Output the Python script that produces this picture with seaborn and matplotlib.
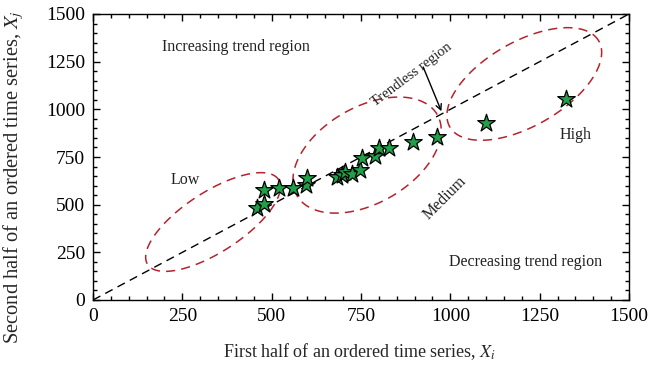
import numpy as np
import pandas as pd
import matplotlib
matplotlib.use("Agg")
import matplotlib.pyplot as plt
from matplotlib.ticker import MultipleLocator, AutoMinorLocator
import seaborn as sns

# First-half vs second-half means of the ordered series
first_half = [460, 479, 479, 521, 559, 596, 598,
              682, 697, 705, 724, 747, 752, 789, 801, 827, 895, 962,
              1100, 1324]
second_half = [481, 502, 577, 586, 589, 603, 641,
               647, 656, 670, 659, 682, 746, 757, 796, 799, 827, 857,
               927, 1053]

# Group ellipses: centre (data), semi-axes (pixels), tilt (degrees)
group_names = ["Low", "Medium", "High"]
group_centres = [(336, 409), (767, 760), (1207, 1133)]
group_axes = [(78, 30), (81, 48), (86, 42)]
group_tilts = [33, 30, 30]

df = pd.DataFrame({"xi": first_half, "xj": second_half})

sns.set_style("ticks")
plt.rcParams["font.family"] = ["Liberation Serif", "DejaVu Serif"]
plt.rcParams["mathtext.fontset"] = "stix"

W, H = 662, 366
fig = plt.figure(figsize=(W / 100, H / 100), dpi=100)
ax = fig.add_axes([93 / W, 1 - 300 / H, 536 / W, 286 / H])

# trend-free diagonal
ax.plot([0, 1500], [0, 1500], ls=(0, (6, 4)), color="black", lw=1.0, zorder=1)

# group outlines
px_per_x = ax.get_position().width * W / 1500
px_per_y = ax.get_position().height * H / 1500
t = np.linspace(0, 2 * np.pi, 400)
for (cx, cy), (a, b), th in zip(group_centres, group_axes, group_tilts):
    r = np.deg2rad(th)
    dx = a * np.cos(t) * np.cos(r) - b * np.sin(t) * np.sin(r)
    dy = a * np.cos(t) * np.sin(r) + b * np.sin(t) * np.cos(r)
    ax.plot(cx + dx / px_per_x, cy + dy / px_per_y, ls=(0, (6, 4)),
            color="#b5232d", lw=1.1, zorder=2)

sns.scatterplot(data=df, x="xi", y="xj", marker="*", s=175,
                color="#22a049", edgecolor="black", linewidth=0.9,
                ax=ax, zorder=3, legend=False)

ax.set_xlim(0, 1500)
ax.set_ylim(0, 1500)
ax.xaxis.set_major_locator(MultipleLocator(250))
ax.yaxis.set_major_locator(MultipleLocator(250))
ax.xaxis.set_minor_locator(AutoMinorLocator(5))
ax.yaxis.set_minor_locator(AutoMinorLocator(5))
ax.tick_params(which="both", direction="in", top=True, right=True,
               labelsize=14, width=1.0, colors="black", pad=5.5)
ax.tick_params(which="major", length=5)
ax.tick_params(which="minor", length=3)
for sp in ax.spines.values():
    sp.set_linewidth(1.0)
    sp.set_color("black")

ax.set_xlabel("First half of an ordered time series, $X_i$", fontsize=13)
ax.set_ylabel("Second half of an ordered time series, $X_j$", fontsize=14.8)
ax.xaxis.set_label_coords(0.498, -0.145)
ax.yaxis.set_label_coords(-0.125, 0.43)

txt = dict(fontsize=11.5, color="#222222", ha="center", va="center")
ax.text(400, 1327, "Increasing trend region", **txt)
ax.text(1210, 199, "Decreasing trend region", **txt)
ax.text(258, 629, "Low", **txt)
ax.text(1350, 865, "High", **txt)
ax.text(986, 535, "Medium", rotation=45, **txt)
ax.text(893, 1180, "Trendless region", rotation=37,
        **{**txt, "fontsize": 10.5})
ax.annotate("", xy=(975, 990), xytext=(924, 1222),
            arrowprops=dict(arrowstyle="->", color="black", lw=1.0,
                            shrinkA=0, shrinkB=0))

fig.savefig("out.png", dpi=100)
